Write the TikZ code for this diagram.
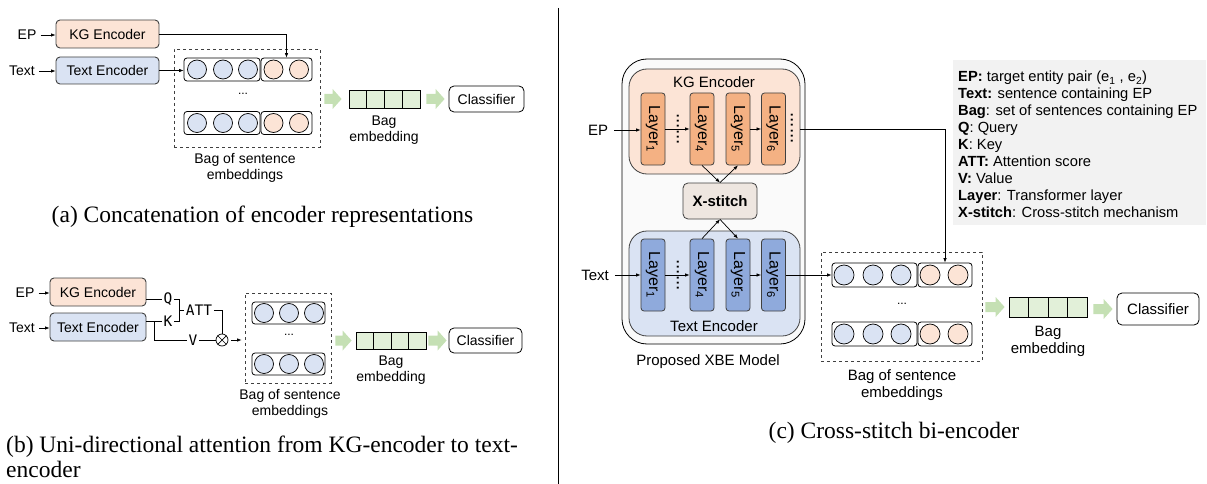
\documentclass[tikz,border=0pt]{standalone}
\usepackage{fontspec}
\usepackage{graphicx}
\setmainfont{Liberation Sans}
\newfontfamily\capfont{Liberation Serif}
\newfontfamily\kqfont{DejaVu Sans Mono}
\usetikzlibrary{calc,arrows.meta}
\definecolor{kgfill}{HTML}{FCE4D6}
\definecolor{txfill}{HTML}{DAE3F3}
\definecolor{kglay}{HTML}{F4B183}
\definecolor{txlay}{HTML}{8FAADC}
\definecolor{xsfill}{HTML}{EEE6E0}
\definecolor{garr}{HTML}{C5E0B4}
\definecolor{gcell}{HTML}{E2F0D9}
\definecolor{legbg}{HTML}{F2F2F2}
\definecolor{outerbg}{HTML}{FAFAFA}
\definecolor{edge}{HTML}{404040}
\newcommand\garrow[4]{\fill[garr] let \p1=#1, \p2=#2 in (\x1+#3pt,\y2+5pt) -- (\x2-#4pt-9pt,\y2+5pt) -- (\x2-#4pt-9pt,\y2+10pt) -- (\x2-#4pt,\y2) -- (\x2-#4pt-9pt,\y2-10pt) -- (\x2-#4pt-9pt,\y2-5pt) -- (\x1+#3pt,\y2-5pt) -- cycle;}
\tikzset{
 fta/.style={font=\fontsize{14}{15.5}\selectfont},
 ftc/.style={font=\fontsize{15}{17}\selectfont},
 encbox/.style={draw=edge, line width=0.9pt, rounded corners=4pt, inner sep=0pt},
 kgbox/.style={encbox, fill=kgfill},
 txbox/.style={encbox, fill=txfill},
 labl/.style={inner sep=0pt, align=center},
 arrw/.style={-{Latex[length=4.5pt,width=3.5pt]}, line width=0.7pt},
 plainln/.style={line width=0.7pt},
 rowbox/.style={draw=black, line width=0.8pt, rounded corners=3pt, inner sep=0pt},
 circb/.style={circle, draw=black, line width=0.7pt, fill=txfill, minimum size=19pt, inner sep=0pt},
 circo/.style={circb, fill=kgfill},
 bagbox/.style={draw=edge, dashed, line width=0.8pt, inner sep=0pt},
 embcells/.style={draw=black, fill=gcell, line width=0.8pt, inner sep=0pt},
 clfbox/.style={draw=black, line width=0.8pt, rounded corners=5pt, inner sep=0pt},
 captxt/.style={font=\capfont\fontsize{23.5}{26}\selectfont, inner sep=0pt},
 kqtxt/.style={font=\kqfont\fontsize{14.5}{16}\selectfont, inner sep=1.5pt},
 layerk/.style={draw=edge, line width=0.8pt, fill=kglay, rounded corners=3pt, minimum width=24pt, minimum height=72pt, inner sep=0pt, font=\fontsize{16}{17}\selectfont},
 layert/.style={layerk, fill=txlay},
 vdotsn/.style={rotate=-90, inner sep=0pt, font=\fontsize{19}{19}\selectfont},
}
\begin{document}
\begin{tikzpicture}[x=1pt,y=-1pt]
\useasboundingbox (0,0) rectangle (1207,484);
% ---------------- panel (a)
\node[labl,fta] (epa) at (27,35) {EP};
\node[kgbox,fta, minimum width=103pt, minimum height=28pt] (kga) at (107.5,34) {KG Encoder};
\node[labl,fta] (texta) at (22,71) {Text};
\node[txbox,fta, minimum width=103pt, minimum height=27pt] (txa) at (107.5,70.5) {Text Encoder};
\draw[arrw] ([xshift=4pt]epa.east) -- (epa.east -| kga.west);
\draw[arrw] ([xshift=4pt]texta.east) -- (texta.east -| txa.west);
\node[bagbox, minimum width=146pt, minimum height=98pt] (baga) at (247,98) {};
\foreach \r/\y in {1/69.5,2/123}{
 \node[rowbox, minimum width=76pt, minimum height=23pt] (a\r b) at (222,\y) {};
 \node[rowbox, minimum width=51pt, minimum height=23pt] (a\r o) at (286.5,\y) {};
 \foreach \x [count=\i] in {197,223,248} \node[circb] (a\r c\i) at (\x,\y) {};
 \foreach \x [count=\i] in {273.5,299} \node[circo] (a\r d\i) at (\x,\y) {};
}
\draw[arrw] (txa.east) -- (txa.east -| a1b.west);
\draw[arrw] (kga.east) -| (a1o.north);
\node[labl, font=\fontsize{12}{12}\selectfont] (dota) at (243,94) {...};
\node[labl,fta] (bla) at (245,168) {Bag of sentence\\embeddings};
\node[embcells, minimum width=71pt, minimum height=18pt] (bea) at (384.5,99) {};
\foreach \i in {1,2,3} \draw[line width=0.8pt] ($(bea.south west)!\i/4!(bea.south east)$) -- ($(bea.north west)!\i/4!(bea.north east)$);
\node[labl,fta] (bela) at (384,130) {Bag\\embedding};
\node[clfbox,fta, minimum width=75pt, minimum height=26pt] (cla) at (486.5,99) {Classifier};
\garrow{(baga.east)}{(bea.west)}{4}{7}
\garrow{(bea.east)}{(cla.west)}{6}{4}
\node[captxt, anchor=base] (capa) at (262.5,222) {(a) Concatenation of encoder representations};
% ---------------- panel (b)
\node[labl,fta] (epb) at (25,293) {EP};
\node[kgbox,fta, minimum width=96pt, minimum height=28pt] (kgb) at (98,292) {KG Encoder};
\node[labl,fta] (textb) at (22,328) {Text};
\node[txbox,fta, minimum width=96pt, minimum height=28pt] (txb) at (98,327) {Text Encoder};
\draw[arrw] ([xshift=4pt]epb.east) -- (epb.east -| kgb.west);
\draw[arrw] ([xshift=4pt]textb.east) -- (textb.east -| txb.west);
\node[kqtxt] (q) at (168,299) {Q};
\node[kqtxt] (k) at (168,321) {K};
\node[kqtxt] (att) at (199,310) {ATT};
\node[kqtxt] (v) at (193,340) {V};
\node[circle, draw=black, line width=0.7pt, inner sep=0pt, minimum size=12pt] (ot) at (222,340) {};
\draw[line width=0.7pt] (ot.north east) -- (ot.south west) (ot.north west) -- (ot.south east);
\coordinate (bx) at ($(q.east)+(5,0)$);
\coordinate (vb) at ($(txb.east |- k)+(8,0)$);
\draw[plainln] (kgb.east |- q) -- (q.west);
\draw[plainln] (txb.east |- k) -- (k.west);
\draw[plainln] (vb) |- (v.west);
\draw[plainln] (q.east) -- (bx) |- (k.east);
\draw[plainln] (att.west) -- (att.west -| bx);
\draw[plainln] (att.east) -| (ot.north);
\draw[plainln] (v.east) -- (ot.west);
\node[bagbox, minimum width=86pt, minimum height=90pt] (bagb) at (288,338) {};
\draw[arrw] ([xshift=3pt]ot.east) -- ([xshift=-3pt]ot.east -| bagb.west);
\foreach \r/\y in {1/313,2/364}{
 \node[rowbox, minimum width=73pt, minimum height=22pt] (b\r b) at (288.5,\y) {};
 \foreach \x [count=\i] in {264,289,314} \node[circb] (b\r c\i) at (\x,\y) {};
}
\node[labl, font=\fontsize{12}{12}\selectfont] (dotb) at (289,335) {...};
\node[labl,fta] (blb) at (290,404) {Bag of sentence\\embeddings};
\node[embcells, minimum width=70pt, minimum height=17pt] (beb) at (391,340.5) {};
\foreach \i in {1,2,3} \draw[line width=0.8pt] ($(beb.south west)!\i/4!(beb.south east)$) -- ($(beb.north west)!\i/4!(beb.north east)$);
\node[labl,fta] (belb) at (391,370) {Bag\\embedding};
\node[clfbox,fta, minimum width=73pt, minimum height=25pt] (clb) at (485.5,340.5) {Classifier};
\garrow{(bagb.east)}{(beb.west)}{4}{4}
\garrow{(beb.east)}{(clb.west)}{2}{2}
\node[captxt, anchor=base west] (capb1) at (6,452) {(b) Uni-directional attention from KG-encoder to text-};
\node[captxt, anchor=base west] (capb2) at (6,477) {encoder};
% divider
\draw[line width=1pt] (558,8) -- (558,484);
% ---------------- panel (c)
\node[draw=black, fill=outerbg, line width=0.8pt, rounded corners=25pt, minimum width=183pt, minimum height=285pt] (xbe) at (713.5,201.5) {};
\node[draw=edge, fill=kgfill, line width=0.8pt, rounded corners=18pt, minimum width=171pt, minimum height=105pt] (kgc) at (714.5,121.5) {};
\node[draw=edge, fill=txfill, line width=0.8pt, rounded corners=18pt, minimum width=171pt, minimum height=105pt] (txc) at (714.5,283.5) {};
\node[labl,ftc] (kgcl) at (714,82) {KG Encoder};
\node[labl,ftc] (txcl) at (714,326) {Text Encoder};
\foreach \x/\n in {653/1,702/4,738/5,773.5/6}{
 \node[layerk] (kl\n) at (\x,129) {\rotatebox{-90}{Layer\textsubscript{\n}}};
 \node[layert] (tl\n) at (\x,275) {\rotatebox{-90}{Layer\textsubscript{\n}}};
}
\node[vdotsn] (kd1) at (678,129) {......};
\node[vdotsn] (kd2) at (792,128) {......};
\node[vdotsn] (td1) at (678,275) {......};
\node[labl,ftc] (epc) at (598,130) {EP};
\node[labl,ftc] (textc) at (595,275) {Text};
\draw[arrw] ([xshift=6pt]epc.east) -- (epc.east -| kl1.west);
\draw[arrw] ([xshift=6pt]textc.east) -- (textc.east -| tl1.west);
\draw[arrw] (kl1.east) -- (kl4.west);
\draw[arrw] (kl5.east) -- (kl6.west);
\draw[arrw] (tl1.east) -- (tl4.west);
\draw[arrw] (tl5.east) -- (tl6.west);
\node[draw=edge, fill=xsfill, line width=0.8pt, rounded corners=5pt, minimum width=74pt, minimum height=36pt, inner sep=0pt, font=\bfseries\fontsize{15}{17}\selectfont] (xs) at (720,201) {X-stitch};
\draw[arrw] (kl4.south) -- (xs.north);
\draw[arrw] (xs.north) -- (kl5.south);
\draw[arrw] (tl4.north) -- (xs.south);
\draw[arrw] (xs.south) -- (tl5.north);
\node[labl,ftc] (xbel) at (708,362) {Proposed XBE Model};
\node[bagbox, minimum width=161pt, minimum height=109pt] (bagc) at (901.5,306.5) {};
\foreach \r/\y in {1/275,2/334}{
 \node[rowbox, minimum width=85pt, minimum height=24pt] (c\r b) at (874.5,\y) {};
 \node[rowbox, minimum width=54pt, minimum height=24pt] (c\r o) at (945,\y) {};
 \foreach \x [count=\i] in {844,873,901} \node[circb, minimum size=20pt] (c\r c\i) at (\x,\y) {};
 \foreach \x [count=\i] in {930,958} \node[circo, minimum size=20pt] (c\r d\i) at (\x,\y) {};
}
\draw[arrw] (tl6.east) -- (tl6.east -| c1b.west);
\draw[arrw] (kgc.east |- kl6.east) -| (c1o.north);
\node[labl, font=\fontsize{12}{12}\selectfont] (dotc) at (902,304) {...};
\node[labl,ftc] (blc) at (902,385) {Bag of sentence\\embeddings};
\node[embcells, minimum width=78pt, minimum height=20pt] (bec) at (1048,307) {};
\foreach \i in {1,2,3} \draw[line width=0.8pt] ($(bec.south west)!\i/4!(bec.south east)$) -- ($(bec.north west)!\i/4!(bec.north east)$);
\node[labl,ftc] (belc) at (1048,341) {Bag\\embedding};
\node[clfbox,ftc, minimum width=82pt, minimum height=32pt] (clc) at (1158,309) {Classifier};
\garrow{(bagc.east)}{(bec.west)}{3}{4}
\garrow{(bec.east)}{(clc.west)}{6}{4}
\node[captxt, anchor=base] (capc) at (894,438) {(c) Cross-stitch bi-encoder};
% legend
\node[fill=legbg, inner sep=0pt, minimum width=253pt, minimum height=165pt] (leg) at (1079.5,142.5) {};
\node[inner sep=0pt, anchor=north west, align=left, font=\fontsize{14.7}{17}\selectfont] (legt) at (958,71) {%
\textbf{EP:} target entity pair (e\textsubscript{1} , e\textsubscript{2})\\
\textbf{Text:} sentence containing EP\\
\textbf{Bag}: set of sentences containing EP\\
\textbf{Q}: Query\\
\textbf{K}: Key\\
\textbf{ATT:} Attention score\\
\textbf{V:} Value\\
\textbf{Layer}: Transformer layer\\
\textbf{X-stitch}: Cross-stitch mechanism};
\end{tikzpicture}
\end{document}
